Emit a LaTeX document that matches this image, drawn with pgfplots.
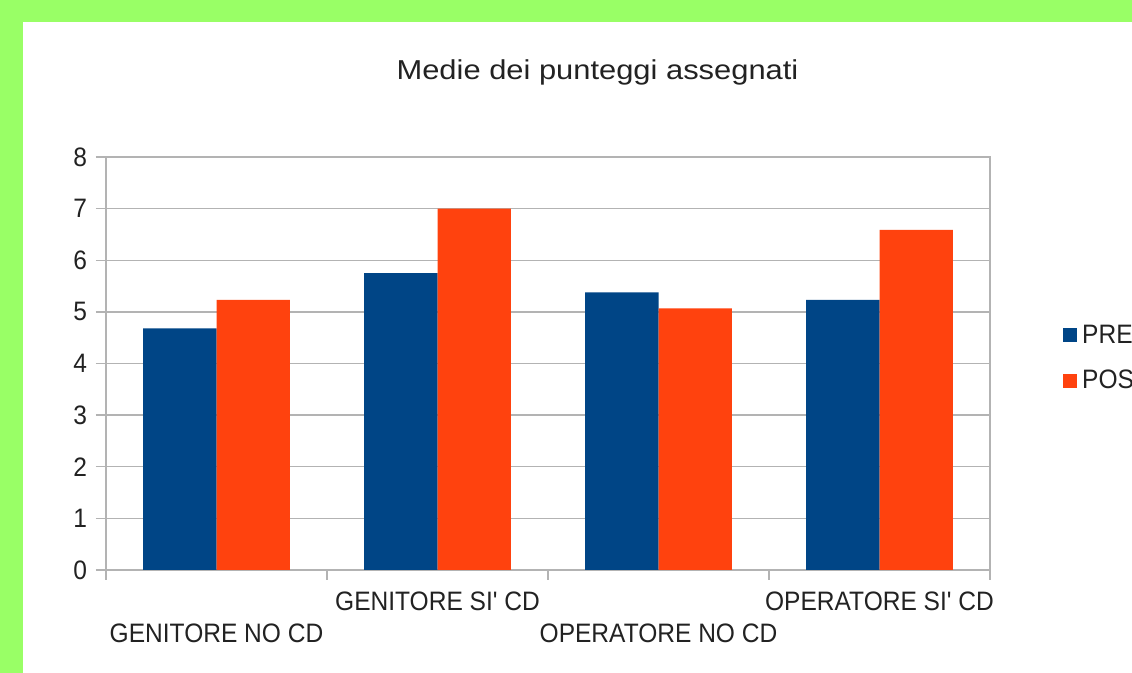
\documentclass[border=0pt]{standalone}
\usepackage{fontspec}
\setmainfont{Liberation Sans}
\newfontfamily\titlefont{Liberation Sans}[FakeStretch=1.13]
\newfontfamily\labfont{Liberation Sans}[FakeStretch=0.92]
\usepackage{pgfplots}
\pgfplotsset{compat=1.18}
\definecolor{bgreen}{HTML}{99FF66}
\definecolor{sblue}{HTML}{004586}
\definecolor{sorange}{HTML}{FF420E}
\definecolor{gridc}{HTML}{B3B3B3}
\definecolor{txt}{HTML}{222222}
\begin{document}
\begin{tikzpicture}
\path[use as bounding box, clip] (0pt,0pt) rectangle (849pt,504.75pt);
\fill[bgreen] (0pt,0pt) rectangle (849pt,504.75pt);
\fill[white] (17.25pt,0pt) rectangle (849pt,488.25pt);
\begin{axis}[
  at={(79.5pt,77.25pt)}, anchor=south west,
  scale only axis, width=663pt, height=309.75pt,
  xmin=0, xmax=4, ymin=0, ymax=8,
  ybar=0pt, bar width=55.1pt,
  ytick={0,1,...,8},
  xtick={0,1,2,3,4}, xticklabels={},
  extra x ticks={0.5,1.5,2.5,3.5},
  extra x tick labels={{\strut\\GENITORE NO CD},{\strut GENITORE SI' CD},{\strut\\OPERATORE NO CD},{\strut OPERATORE SI' CD}},
  extra x tick style={major tick length=0pt, tick style={draw=none}, grid=none},
  tick pos=left, tick align=outside, major tick length=7.5pt,
  tick style={gridc, line width=1pt},
  ymajorgrids, grid style={gridc, line width=1pt},
  axis line style={gridc, line width=1pt},
  /pgf/number format/assume math mode=true,
  tick label style={font=\labfont\fontsize{20}{24}\selectfont, text=txt},
  yticklabel style={inner sep=0pt, xshift=-6.5pt},
  xticklabel style={align=center, inner sep=0pt, yshift=-13.5pt},
  title={\titlefont\fontsize{20.5}{24}\selectfont Medie dei punteggi assegnati},
  title style={at={(rel axis cs:0.556,1)}, anchor=base, yshift=51.75pt, text=txt, inner sep=0pt},
  legend style={at={(rel axis cs:1.0825,0.513)}, anchor=west, draw=none, fill=none,
    font=\labfont\fontsize{20}{22}\selectfont, text=txt, row sep=14.5pt, inner sep=0pt,
    nodes={inner xsep=3.75pt}},
  legend cell align=left,
  legend image code/.code={\fill[#1,draw=none] (0pt,-5.25pt) rectangle (10.5pt,5.25pt);},
]
\addplot[fill=sblue, draw=none] coordinates {(0.5,4.68) (1.5,5.75) (2.5,5.38) (3.5,5.23)};
\addplot[fill=sorange, draw=none] coordinates {(0.5,5.23) (1.5,7.00) (2.5,5.07) (3.5,6.59)};
\legend{PRE,POST}
\end{axis}
\end{tikzpicture}
\end{document}
